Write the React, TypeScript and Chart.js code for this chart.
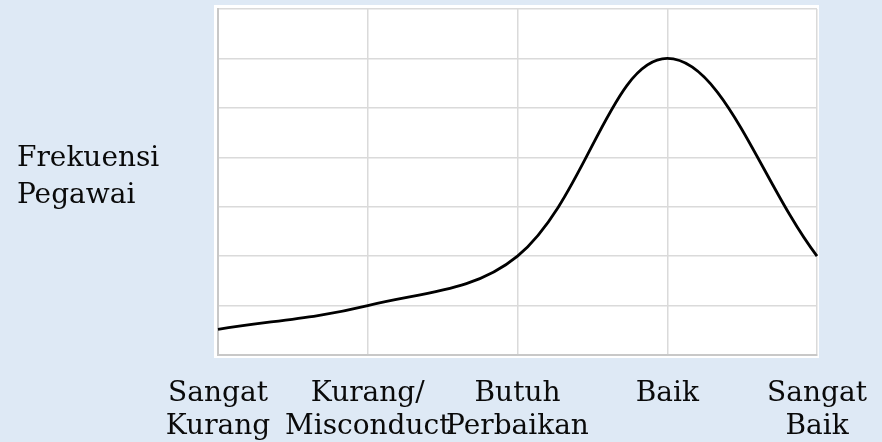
import React, { useEffect, useRef } from "react";
import { Chart, registerables } from "chart.js";

Chart.register(...registerables);

const categories: (string | string[])[] = [
  ["Sangat", "Kurang"],
  ["Kurang/", "Misconduct"],
  ["Butuh", "Perbaikan"],
  "Baik",
  ["Sangat", "Baik"],
];
const frekuensi = [0.52, 1.0, 2, 6, 2];
const yAxisLabel = ["Frekuensi", "Pegawai"];
const yMin = 0;
const yMax = 7;
const yStep = 1;

const FONT = "'DejaVu Serif', serif";

const plotBackground = {
  id: "plotBackground",
  beforeDraw(chart: any) {
    const { ctx, chartArea } = chart;
    ctx.save();
    ctx.fillStyle = "#ffffff";
    ctx.fillRect(chartArea.left - 4, chartArea.top - 4, chartArea.right - chartArea.left + 6, chartArea.bottom - chartArea.top + 7);
    ctx.restore();
  },
};

const yTitle = {
  id: "yTitle",
  afterDraw(chart: any) {
    const { ctx } = chart;
    ctx.save();
    ctx.fillStyle = "#0a0a0a";
    ctx.font = `28px ${FONT}`;
    ctx.textAlign = "left";
    ctx.textBaseline = "alphabetic";
    ctx.fillText(yAxisLabel[0], 17, 166);
    ctx.fillText(yAxisLabel[1], 17, 203);
    ctx.restore();
  },
};

export default function App() {
  const ref = useRef<HTMLCanvasElement>(null);
  useEffect(() => {
    if (!ref.current) return;
    const chart = new Chart(ref.current, {
      type: "line",
      data: {
        labels: categories,
        datasets: [
          {
            data: frekuensi,
            borderColor: "#000000",
            borderWidth: 2.8,
            tension: 0.37,
            pointRadius: 0,
            fill: false,
          },
        ],
      },
      options: {
        animation: false,
        responsive: false,
        layout: { padding: { left: 218, right: 65, top: 9, bottom: 0 } },
        plugins: { legend: { display: false }, tooltip: { enabled: false } },
        scales: {
          x: {
            grid: { color: "#dadada", lineWidth: 1.5, drawTicks: false },
            border: { color: "#c8c8c8", width: 2 },
            afterFit: (scale: any) => {
              scale.height = 87;
              scale.paddingLeft = 0;
              scale.paddingRight = 0;
            },
            ticks: {
              autoSkip: false,
              maxRotation: 0,
              minRotation: 0,
              padding: 22,
              color: "#0a0a0a",
              font: { family: FONT, size: 28, lineHeight: 1.18 },
            },
          },
          y: {
            min: yMin,
            max: yMax,
            grid: { color: "#dadada", lineWidth: 1.5, drawTicks: false },
            border: { color: "#c8c8c8", width: 2 },
            ticks: { display: false, stepSize: yStep },
          },
        },
      },
      plugins: [plotBackground, yTitle],
    });
    return () => chart.destroy();
  }, []);
  return (
    <div style={{ position: "fixed", left: 0, top: 0, width: 882, height: 442, background: "#dee9f5" }}>
      <canvas ref={ref} width={882} height={442} />
    </div>
  );
}
